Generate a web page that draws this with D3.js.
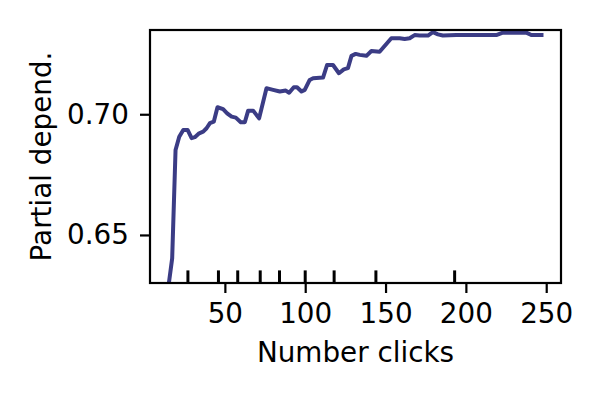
<!DOCTYPE html>
<html lang="en">
<head>
<meta charset="UTF-8">
<title>Partial dependence - Number clicks</title>
<script src="https://d3js.org/d3.v7.min.js"></script>
<style>
  body { margin: 0; background: #fff; }
  text { font-family: "DejaVu Sans", sans-serif; fill: #000; }
</style>
</head>
<body>
<div id="chart"></div>
<script>
// partial dependence curve
const clicks = [15.0, 17.2, 19.3, 21.6, 24.1, 26.8, 29.3, 31.3, 34.0, 36.5,
  38.6, 40.7, 43.1, 45.4, 48.9, 51.4, 54.2, 56.8, 59.9, 62.4,
  64.5, 67.6, 71.3, 75.9, 80.0, 84.2, 87.9, 90.0, 92.9, 94.9,
  97.7, 99.7, 102.8, 104.9, 111.1, 113.6, 117.3, 121.0, 124.0, 126.6,
  128.8, 131.4, 133.9, 138.1, 141.2, 146.3, 153.6, 158.8, 161.9, 165.0,
  168.1, 171.2, 176.4, 179.5, 182.6, 185.7, 194.0, 218.9, 223.0, 237.6,
  240.7, 248.3];
const dependence = [0.6293, 0.6403, 0.6852, 0.6907, 0.6935, 0.6935, 0.6901, 0.6905, 0.6921, 0.6928,
  0.6942, 0.6963, 0.6969, 0.7029, 0.7021, 0.7004, 0.6990, 0.6986, 0.6967, 0.6967,
  0.7015, 0.7015, 0.6983, 0.7108, 0.7101, 0.7094, 0.7098, 0.7089, 0.7112, 0.7112,
  0.7094, 0.7101, 0.7142, 0.7149, 0.7152, 0.7204, 0.7204, 0.7170, 0.7186, 0.7191,
  0.7242, 0.7250, 0.7246, 0.7242, 0.7262, 0.7259, 0.7315, 0.7315, 0.7312, 0.7315,
  0.7328, 0.7326, 0.7326, 0.7340, 0.7331, 0.7326, 0.7328, 0.7328, 0.7338, 0.7338,
  0.7328, 0.7328];
// deciles of the feature (rug marks)
const deciles = [27, 46, 58, 72, 84, 100, 118, 144, 193];
const xTicks = [50, 100, 150, 200, 250];
const yTicks = [0.65, 0.70];

const width = 600, height = 400;
const margin = { top: 30, right: 39, bottom: 117, left: 150 };
const innerW = width - margin.left - margin.right;
const innerH = height - margin.top - margin.bottom;
const fontSize = "27.8px";

const svg = d3.select("#chart").append("svg")
    .attr("width", width)
    .attr("height", height);

const x = d3.scaleLinear().domain([3.4, 259.2]).range([0, innerW]);
const y = d3.scaleLinear().domain([0.6301, 0.7349]).range([innerH, 0]);

const g = svg.append("g").attr("transform", `translate(${margin.left},${margin.top})`);

g.append("clipPath").attr("id", "clip")
  .append("rect").attr("width", innerW).attr("height", innerH);

const line = d3.line()
    .x((d, i) => x(clicks[i]))
    .y(d => y(d));

g.append("path")
    .datum(dependence)
    .attr("clip-path", "url(#clip)")
    .attr("fill", "none")
    .attr("stroke", "#3b3c85")
    .attr("stroke-width", 4)
    .attr("stroke-linejoin", "round")
    .attr("d", line);

// rug of deciles
g.append("g").selectAll("line")
  .data(deciles)
  .join("line")
    .attr("x1", d => x(d)).attr("x2", d => x(d))
    .attr("y1", innerH).attr("y2", innerH - 12.6)
    .attr("stroke", "#000")
    .attr("stroke-width", 3);

// axes
const xAxis = g.append("g")
    .attr("transform", `translate(0,${innerH})`)
    .call(d3.axisBottom(x).tickValues(xTicks).tickSize(10).tickPadding(10).tickFormat(d3.format("d")));
const yAxis = g.append("g")
    .call(d3.axisLeft(y).tickValues(yTicks).tickSize(10).tickPadding(11).tickFormat(d3.format(".2f")));

[xAxis, yAxis].forEach(a => {
  a.select(".domain").remove();
  a.selectAll(".tick line").attr("stroke", "#000").attr("stroke-width", 2.2);
  a.selectAll(".tick text").style("font-size", fontSize).attr("fill", "#000");
});

// frame
g.append("rect")
    .attr("width", innerW).attr("height", innerH)
    .attr("fill", "none")
    .attr("stroke", "#000")
    .attr("stroke-width", 2.2);

svg.append("text")
    .attr("x", margin.left + innerW / 2)
    .attr("y", 362)
    .attr("text-anchor", "middle")
    .style("font-size", fontSize)
    .text("Number clicks");

svg.append("text")
    .attr("transform", `translate(51,${margin.top + innerH / 2}) rotate(-90)`)
    .attr("text-anchor", "middle")
    .style("font-size", fontSize)
    .text("Partial depend.");
</script>
</body>
</html>
